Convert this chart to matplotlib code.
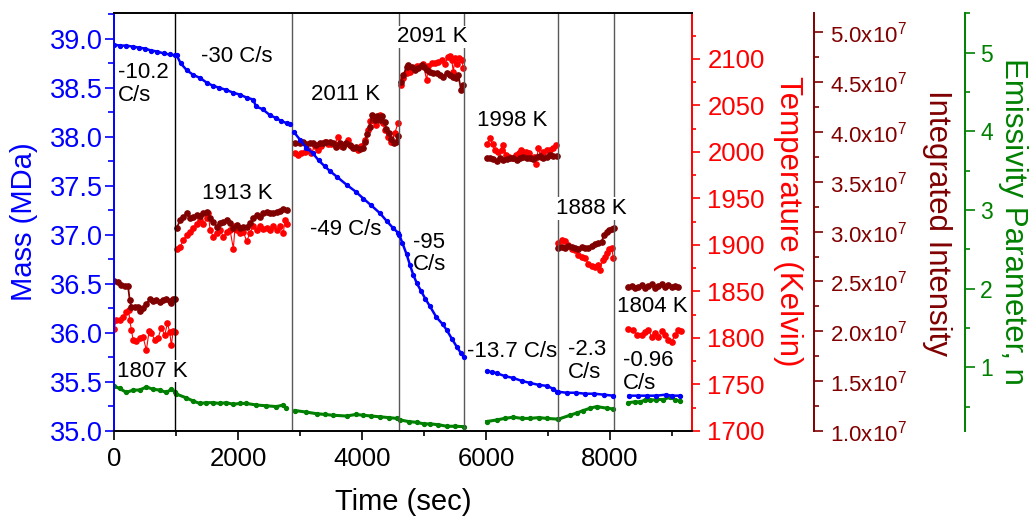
import numpy as np
import matplotlib
matplotlib.use('Agg')
import matplotlib.pyplot as plt
from matplotlib.ticker import MultipleLocator, FuncFormatter

plt.rcParams['font.family'] = ['Liberation Sans', 'DejaVu Sans']
plt.rcParams['mathtext.fontset'] = 'custom'
plt.rcParams['mathtext.rm'] = 'Liberation Sans'
plt.rcParams['mathtext.it'] = 'Liberation Sans:italic'

BLUE = '#0000FF'
RED = '#FF0000'
DARKRED = '#800000'
GREEN = '#008000'

# ---- data (time in sec), one list per heating step ----
mass_t = [
    [0, 100, 200, 300, 400, 500, 600, 700, 800, 900, 990],
    [1011, 1075, 1172, 1280, 1390, 1500, 1600, 1700, 1800, 1925, 2030, 2140, 2245, 2290, 2400, 2516, 2620, 2700, 2785, 2840],
    [2900, 3000, 3100, 3210, 3300, 3398, 3484, 3600, 3753, 3900, 4022, 4150, 4291, 4400, 4500, 4586],
    [4600, 4650, 4720, 4775, 4828, 4882, 4950, 5020, 5097, 5200, 5300, 5366, 5450, 5527, 5590, 5645],
    [6010, 6100, 6173, 6300, 6442, 6580, 6710, 6850, 6979, 7087, 7150],
    [7160, 7300, 7450, 7600, 7750, 7900, 8050],
    [8300, 8450, 8600, 8750, 8900, 9000, 9130],
]
mass_v = [
    [38.94, 38.93, 38.93, 38.92, 38.91, 38.90, 38.88, 38.87, 38.85, 38.84, 38.83],
    [38.83, 38.75, 38.68, 38.63, 38.60, 38.55, 38.52, 38.50, 38.48, 38.45, 38.43, 38.40, 38.38, 38.31, 38.28, 38.22, 38.19, 38.16, 38.14, 38.13],
    [38.05, 37.97, 37.89, 37.83, 37.76, 37.70, 37.65, 37.59, 37.51, 37.44, 37.37, 37.30, 37.22, 37.14, 37.07, 37.02],
    [37.00, 36.92, 36.80, 36.69, 36.59, 36.51, 36.43, 36.35, 36.27, 36.16, 36.09, 36.03, 35.94, 35.86, 35.80, 35.75],
    [35.61, 35.60, 35.59, 35.56, 35.54, 35.51, 35.49, 35.47, 35.46, 35.43, 35.40],
    [35.40, 35.39, 35.39, 35.38, 35.38, 35.37, 35.36],
    [35.36, 35.36, 35.36, 35.36, 35.37, 35.36, 35.36],
]

temp_t = [
    [0, 38, 91, 145, 199, 237, 253, 280, 307, 360, 414, 468, 522, 565, 603, 656, 710, 764, 818, 861, 898, 925, 952, 984],
    [1011, 1065, 1119, 1172, 1226, 1280, 1334, 1387, 1441, 1495, 1522, 1549, 1602, 1656, 1710, 1764, 1817, 1871, 1925, 1952,
     1979, 2032, 2086, 2140, 2194, 2247, 2301, 2355, 2409, 2462, 2516, 2570, 2624, 2677, 2731, 2758, 2785],
    [2925, 2968, 3022, 3075, 3129, 3183, 3237, 3291, 3344, 3398, 3452, 3506, 3560, 3613, 3667, 3721, 3775, 3828, 3882, 3936,
     3990, 4043, 4097, 4124, 4177, 4231, 4285, 4338, 4365, 4419, 4473, 4527, 4581],
    [4629, 4667, 4721, 4775, 4828, 4882, 4936, 4990, 5043, 5070, 5124, 5178, 5231, 5285, 5339, 5382, 5420, 5446, 5473, 5500,
     5527, 5565, 5608, 5635],
    [6022, 6065, 6108, 6145, 6199, 6253, 6280, 6323, 6377, 6430, 6484, 6538, 6565, 6603, 6645, 6699, 6737, 6775, 6807, 6844,
     6882, 6925, 6979, 7033, 7076, 7129],
    [7167, 7221, 7275, 7328, 7382, 7436, 7490, 7543, 7597, 7651, 7705, 7759, 7812, 7839, 7882, 7920, 7957, 7990, 8027, 8054],
    [8296, 8376, 8431, 8512, 8565, 8618, 8673, 8726, 8780, 8834, 8887, 8941, 8996, 9049, 9102, 9141],
]
temp_v = [
    [1810, 1819, 1819, 1823, 1828, 1830, 1819, 1809, 1798, 1797, 1800, 1801, 1787, 1807, 1805, 1798, 1800, 1811, 1803, 1816, 1806, 1792, 1807, 1806],
    [1896, 1898, 1905, 1911, 1914, 1918, 1923, 1927, 1922, 1929, 1934, 1916, 1909, 1913, 1916, 1909, 1914, 1916, 1896, 1920,
     1916, 1913, 1914, 1904, 1913, 1920, 1916, 1920, 1917, 1918, 1916, 1920, 1916, 1920, 1913, 1927, 1923],
    [1999, 1997, 1999, 2000, 2002, 1999, 2006, 2002, 2006, 2011, 2009, 2008, 2009, 2016, 2006, 2009, 2013, 2006, 2004, 2002,
     2006, 2013, 2024, 2033, 2034, 2029, 2040, 2031, 2024, 2016, 2011, 2020, 2031],
    [2072, 2079, 2085, 2086, 2090, 2092, 2092, 2094, 2077, 2092, 2095, 2096, 2097, 2099, 2094, 2102, 2103, 2099, 2086, 2101,
     2094, 2101, 2099, 2090],
    [2009, 2015, 2008, 2002, 2000, 2002, 2007, 1997, 1995, 1993, 1997, 1999, 2002, 2000, 2000, 1999, 1993, 1995, 1987, 2004,
     1995, 2000, 2002, 2002, 2004, 2007],
    [1902, 1905, 1904, 1900, 1896, 1895, 1889, 1887, 1886, 1880, 1877, 1876, 1878, 1873, 1884, 1887, 1891, 1896, 1897, 1886],
    [1810, 1809, 1803, 1803, 1806, 1809, 1801, 1805, 1801, 1807, 1803, 1798, 1796, 1803, 1809, 1807],
]

# integrated intensity, in units of 1e7
inten_t = [
    [0, 65, 118, 172, 226, 253, 280, 334, 387, 414, 468, 522, 576, 629, 683, 737, 791, 845, 898, 925, 952, 984],
    [1011, 1065, 1119, 1172, 1226, 1280, 1334, 1387, 1441, 1495, 1549, 1602, 1656, 1710, 1764, 1817, 1871, 1925, 1979, 2032,
     2086, 2140, 2194, 2247, 2301, 2355, 2409, 2462, 2516, 2570, 2624, 2677, 2731, 2785],
    [2925, 2995, 3049, 3102, 3156, 3210, 3264, 3318, 3371, 3425, 3479, 3533, 3586, 3640, 3694, 3748, 3801, 3855, 3909, 3963,
     4017, 4054, 4086, 4124, 4161, 4204, 4247, 4285, 4322, 4365, 4392, 4430, 4473, 4516, 4554, 4581],
    [4629, 4667, 4721, 4748, 4801, 4855, 4909, 4963, 5006, 5043, 5097, 5151, 5205, 5258, 5312, 5366, 5420, 5473, 5511, 5554,
     5597, 5635],
    [6011, 6065, 6118, 6172, 6226, 6280, 6333, 6387, 6441, 6495, 6549, 6603, 6656, 6710, 6764, 6817, 6871, 6925, 6979, 7033,
     7087, 7151],
    [7167, 7221, 7275, 7328, 7382, 7436, 7490, 7543, 7597, 7651, 7705, 7759, 7812, 7866, 7904, 7947, 7990, 8027, 8065],
    [8296, 8350, 8404, 8457, 8511, 8565, 8619, 8672, 8726, 8780, 8834, 8887, 8941, 8995, 9049, 9102],
]
inten_v = [
    [2.505, 2.491, 2.464, 2.454, 2.454, 2.314, 2.247, 2.241, 2.247, 2.204, 2.23, 2.274, 2.32, 2.307, 2.314, 2.297, 2.314, 2.32, 2.307, 2.28, 2.32, 2.32],
    [3.033, 3.116, 3.149, 3.183, 3.133, 3.149, 3.166, 3.156, 3.183, 3.2, 3.133, 3.1, 3.05, 3.083, 3.1, 3.116, 3.083, 3.033, 3.066, 3.033,
     3.05, 3.05, 3.083, 3.133, 3.166, 3.149, 3.183, 3.2, 3.183, 3.183, 3.2, 3.21, 3.224, 3.217],
    [3.892, 3.885, 3.902, 3.875, 3.885, 3.892, 3.869, 3.892, 3.885, 3.902, 3.902, 3.885, 3.852, 3.885, 3.852, 3.892, 3.869, 3.835, 3.852, 3.825,
     3.835, 3.902, 3.979, 4.052, 4.17, 4.12, 4.16, 4.12, 4.16, 4.10, 4.026, 3.986, 3.926, 3.892, 3.902, 3.96],
    [4.504, 4.571, 4.654, 4.671, 4.654, 4.621, 4.638, 4.671, 4.654, 4.621, 4.604, 4.588, 4.588, 4.571, 4.554, 4.588, 4.571, 4.554, 4.537, 4.571,
     4.42, 4.47],
    [3.735, 3.741, 3.728, 3.708, 3.735, 3.718, 3.725, 3.735, 3.741, 3.718, 3.735, 3.751, 3.735, 3.741, 3.728, 3.751, 3.761, 3.741, 3.751, 3.768,
     3.761, 3.761],
    [2.832, 2.849, 2.839, 2.859, 2.849, 2.832, 2.825, 2.849, 2.832, 2.839, 2.859, 2.872, 2.882, 2.899, 2.966, 2.999, 3.016, 3.026, 3.033],
    [2.448, 2.458, 2.438, 2.448, 2.464, 2.438, 2.458, 2.471, 2.438, 2.458, 2.471, 2.448, 2.464, 2.448, 2.458, 2.448],
]

emis_t = [
    [0, 91, 199, 307, 414, 522, 629, 737, 845, 925, 984],
    [1006, 1167, 1280, 1383, 1490, 1600, 1705, 1810, 1921, 2030, 2136, 2297, 2459, 2620, 2728, 2781],
    [2916, 3100, 3266, 3400, 3535, 3750, 3900, 4022, 4150, 4291, 4430, 4559],
    [4613, 4750, 4882, 5000, 5097, 5230, 5366, 5500, 5646],
    [6011, 6173, 6300, 6442, 6580, 6710, 6850, 6979, 7167],
    [7167, 7355, 7470, 7570, 7680, 7785, 7947, 8054],
    [8296, 8400, 8484, 8560, 8645, 8750, 8860, 8968, 9050, 9130],
]
emis_v = [
    [0.76, 0.73, 0.68, 0.71, 0.71, 0.75, 0.72, 0.71, 0.68, 0.72, 0.69],
    [0.66, 0.61, 0.57, 0.54, 0.55, 0.55, 0.54, 0.55, 0.53, 0.54, 0.54, 0.52, 0.51, 0.50, 0.52, 0.48],
    [0.45, 0.43, 0.41, 0.40, 0.39, 0.38, 0.40, 0.39, 0.38, 0.37, 0.36, 0.35],
    [0.33, 0.31, 0.30, 0.28, 0.28, 0.27, 0.25, 0.25, 0.245],
    [0.31, 0.33, 0.35, 0.365, 0.35, 0.35, 0.36, 0.35, 0.34],
    [0.34, 0.39, 0.42, 0.45, 0.48, 0.50, 0.48, 0.47],
    [0.55, 0.56, 0.56, 0.58, 0.58, 0.59, 0.59, 0.62, 0.59, 0.565],
]

step_edges = [990, 2865, 4600, 5645, 7155, 8060]

# annotations: (text, time, mass, ha, white background)
notes = [
    ('-10.2\nC/s', 65, 38.54, 'left', False),
    ('-30 C/s', 1979, 38.82, 'center', False),
    ('2011 K', 3742, 38.43, 'center', False),
    ('2091 K', 5137, 39.02, 'center', True),
    ('1998 K', 6428, 38.17, 'center', False),
    ('1913 K', 1992, 37.42, 'center', False),
    ('1888 K', 7694, 37.27, 'center', True),
    ('-49 C/s', 3739, 37.05, 'center', False),
    ('-95\nC/s', 4823, 36.81, 'left', False),
    ('1804 K', 8686, 36.27, 'center', False),
    ('-13.7 C/s', 6415, 35.81, 'center', False),
    ('-2.3\nC/s', 7323, 35.71, 'left', False),
    ('-0.96\nC/s', 8210, 35.60, 'left', False),
    ('1807 K', 621, 35.61, 'center', True),
]

fig = plt.figure(figsize=(10.31, 5.18), dpi=100)
ax = fig.add_axes([0.1106, 0.168, 0.5606, 0.8064])
ax_t = ax.twinx()
ax_i = ax.twinx()
ax_e = ax.twinx()
ax_i.spines['right'].set_position(('axes', 1.211))
ax_e.spines['right'].set_position(('axes', 1.472))

# mass axis on top so blue trace and labels sit over the others
ax.set_zorder(ax_e.get_zorder() + 1)
ax.patch.set_visible(False)

for t, v in zip(temp_t, temp_v):
    ax_t.plot(t, v, '-o', color=RED, ms=3.8, lw=0.8)
for t, v in zip(inten_t, inten_v):
    ax_i.plot(t, v, '-o', color=DARKRED, ms=3.8, lw=1.3)
for t, v in zip(emis_t, emis_v):
    ax_e.plot(t, v, '-o', color=GREEN, ms=2.8, lw=2.2)
for t, v in zip(mass_t, mass_v):
    ax.plot(t, v, '-o', color=BLUE, ms=2.8, lw=1.8)

for i, x in enumerate(step_edges):
    ax.axvline(x, color='black' if i == 0 else '0.35', lw=1.0, zorder=1)

for txt, x, y, ha, bg in notes:
    kw = {}
    if bg:
        kw['bbox'] = dict(facecolor='white', edgecolor='none', pad=0.5)
    ax.text(x, y, txt, ha=ha, va='center', fontsize=16, color='black',
            linespacing=1.12, zorder=10, **kw)

# limits
ax.set_xlim(0, 9323)
ax.set_ylim(35.0, 39.26)
ax_t.set_ylim(1700, 2149)
ax_i.set_ylim(1.0, 5.19)
ax_e.set_ylim(0.19, 5.5)

# spines
ax.spines['right'].set_visible(False)
ax.spines['left'].set_color(BLUE)
for s in ['left', 'top', 'bottom']:
    ax.spines[s].set_linewidth(1.4)
for a, c in [(ax_t, RED), (ax_i, DARKRED), (ax_e, GREEN)]:
    for s in ['left', 'top', 'bottom']:
        a.spines[s].set_visible(False)
    a.spines['right'].set_color(c)
    a.spines['right'].set_linewidth(1.4)

# ticks
ax.xaxis.set_major_locator(MultipleLocator(2000))
ax.xaxis.set_minor_locator(MultipleLocator(1000))
ax.tick_params(axis='x', which='major', length=6.5, width=1.2, labelsize=18.5, pad=5)
ax.tick_params(axis='x', which='minor', length=3.5, width=1.2)

ax.yaxis.set_major_locator(MultipleLocator(0.5))
ax.yaxis.set_minor_locator(MultipleLocator(0.25))
ax.yaxis.set_major_formatter(FuncFormatter(lambda v, p: f'{v:.1f}'))
ax.tick_params(axis='y', which='major', length=6.5, width=1.2, colors=BLUE, labelsize=19.5, pad=1.5)
ax.tick_params(axis='y', which='minor', length=4, width=1.2, colors=BLUE)

ax_t.yaxis.set_major_locator(MultipleLocator(50))
ax_t.yaxis.set_minor_locator(MultipleLocator(25))
ax_t.tick_params(axis='y', which='major', length=6, width=1.2, colors=RED, labelsize=18.5, pad=5)
ax_t.tick_params(axis='y', which='minor', length=3, width=1.2, colors=RED)

ax_i.yaxis.set_major_locator(MultipleLocator(0.5))
ax_i.yaxis.set_minor_locator(MultipleLocator(0.25))
ax_i.yaxis.set_major_formatter(FuncFormatter(lambda v, p: f'{v:.1f}x10$^{{7}}$'))
ax_i.tick_params(axis='y', which='major', length=6.5, width=1.2, colors=DARKRED, labelsize=16, pad=5)
ax_i.tick_params(axis='y', which='minor', length=3.5, width=1.2, colors=DARKRED)

ax_e.yaxis.set_major_locator(MultipleLocator(1))
ax_e.yaxis.set_minor_locator(MultipleLocator(0.5))
ax_e.tick_params(axis='y', which='major', length=7, width=1.2, colors=GREEN, labelsize=16.5, pad=4)
ax_e.tick_params(axis='y', which='minor', length=3.5, width=1.2, colors=GREEN)

# axis titles
fig.text(24 / 1031, 1 - 222 / 518, 'Mass (MDa)', rotation=90, color=BLUE,
         fontsize=21, ha='center', va='center')
fig.text(788 / 1031, 1 - 221 / 518, 'Temperature (Kelvin)', rotation=270, color=RED,
         fontsize=22.5, ha='center', va='center')
fig.text(937 / 1031, 1 - 223 / 518, 'Integrated Intensity', rotation=270, color=DARKRED,
         fontsize=22.5, ha='center', va='center')
fig.text(1012.5 / 1031, 1 - 221.5 / 518, 'Emissivity Parameter, n', rotation=270, color=GREEN,
         fontsize=22.5, ha='center', va='center')
fig.text(403 / 1031, 1 - 502 / 518, 'Time (sec)', color='black',
         fontsize=21, ha='center', va='center')

fig.savefig('out.png', dpi=100)
